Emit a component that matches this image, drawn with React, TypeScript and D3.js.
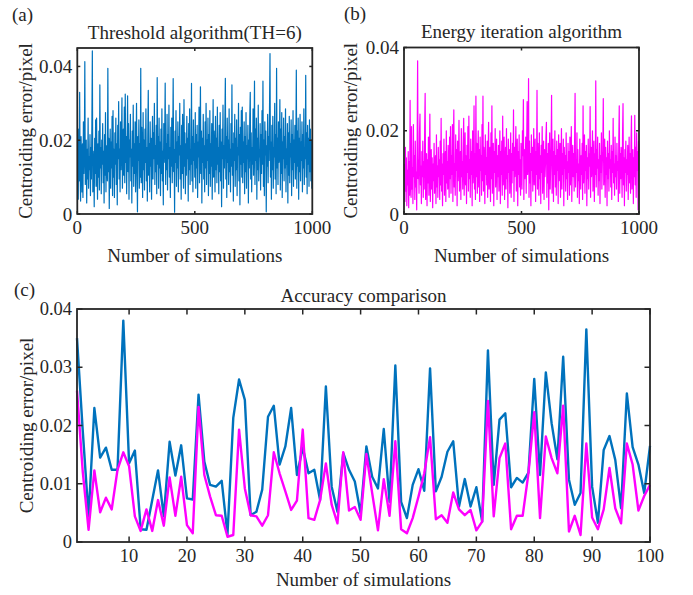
import React from "react";
import * as d3 from "d3";

// Panel (a): threshold algorithm, centroiding error in 1e-4 px, every 2nd simulation
const thresholdErr = [
  160, 40, 230, 90, 330, 120, 35, 210, 150, 60, 190, 45, 250, 110, 170, 413, 80, 140, 200, 30, 175, 95, 260, 70, 155,
  120, 215, 50, 180, 95, 240, 442, 60, 170, 130, 20, 205, 110, 255, 75, 260, 140, 40, 190, 100, 225, 65, 350, 125, 180,
  55, 200, 135, 245, 85, 170, 30, 215, 105, 275, 60, 185, 145, 90, 395, 115, 205, 15, 160, 230, 70, 195, 125, 265, 50,
  280, 100, 175, 45, 220, 135, 260, 80, 190, 25, 240, 150, 305, 95, 175, 60, 250, 120, 200, 315, 70, 165, 230, 105, 290,
  85, 325, 140, 210, 55, 185, 320, 115, 245, 40, 200, 155, 270, 90, 175, 30, 225, 130, 295, 75, 190, 110, 250, 60, 165,
  300, 120, 6, 210, 145, 255, 70, 190, 100, 395, 85, 235, 160, 45, 275, 120, 200, 65, 230, 140, 285, 90, 180, 35, 215,
  335, 105, 190, 60, 250, 130, 205, 40, 175, 265, 95, 220, 150, 300, 80, 185, 115, 240, 55, 370, 135, 210, 70, 260, 125,
  195, 50, 230, 110, 285, 90, 170, 25, 245, 140, 205, 355, 80, 190, 120, 270, 65, 215, 150, 295, 100, 180, 45, 235, 130,
  260, 85, 200, 367, 115, 175, 5, 225, 140, 280, 75, 195, 125, 250, 60, 210, 160, 300, 95, 185, 40, 240, 110, 270, 145,
  70, 310, 130, 220, 55, 190, 105, 265, 150, 205, 35, 245, 120, 285, 80, 175, 135, 354, 90, 210, 60, 255, 145, 190, 100,
  275, 70, 215, 125, 240, 45, 195, 155, 290, 85, 180, 345, 110, 225, 30, 205, 140, 270, 95, 185, 60, 250, 125, 300, 80,
  200, 145, 260, 50, 215, 110, 280, 75, 190, 130, 245, 40, 170, 310, 100, 225, 155, 60, 265, 120, 205, 85, 290, 135, 180,
  55, 240, 115, 275, 90, 195, 20, 230, 150, 295, 70, 185, 125, 250, 368, 95, 210, 45, 260, 140, 200, 80, 285, 115, 175,
  60, 245, 130, 350, 105, 190, 35, 220, 145, 270, 75, 205, 120, 255, 50, 180, 160, 300, 90, 215, 25, 235, 135, 280, 100,
  290, 85, 195, 140, 250, 55, 210, 115, 275, 70, 185, 150, 240, 30, 200, 125, 265, 330, 95, 220, 60, 180, 135, 285, 105,
  190, 360, 80, 230, 145, 260, 40, 205, 120, 295, 90, 175, 155, 245, 65, 215, 110, 280, 135, 360, 75, 200, 50, 250, 160,
  225, 6, 185, 130, 270, 85, 210, 145, 290, 435, 100, 195, 40, 240, 120, 265, 70, 180, 155, 300, 95, 215, 55, 395, 125,
  205, 80, 250, 140, 185, 310, 65, 230, 110, 275, 45, 195, 150, 260, 90, 210, 125, 285, 60, 175, 135, 245, 30, 220, 105,
  265, 85, 190, 155, 255, 50, 215, 120, 280, 75, 200, 140, 240, 95, 185, 390, 70, 225, 130, 260, 40, 205, 115, 270, 90,
  195, 145, 250, 60, 215, 125, 285, 80, 180, 150, 376, 100, 220, 55, 240, 135, 205, 75, 255, 115, 230, 90, 200, 70, 190,
];

// Panel (b): energy iteration algorithm, same units
const energyErr = [
  120, 30, 160, 55, 135, 20, 105, 70, 150, 15, 125, 45, 273, 80, 40, 210, 60, 110, 25, 215, 90, 140, 35, 175, 65,
  100, 10, 165, 368, 85, 130, 50, 195, 240, 70, 115, 25, 150, 90, 175, 40, 125, 60, 210, 290, 35, 100, 145, 20, 130,
  75, 185, 45, 110, 240, 30, 95, 155, 60, 135, 15, 120, 80, 170, 50, 105, 140, 25, 190, 65, 115, 40, 160, 90, 130,
  35, 175, 70, 230, 55, 120, 20, 145, 95, 180, 45, 110, 150, 30, 200, 75, 125, 60, 165, 100, 40, 185, 85, 210, 50,
  140, 95, 215, 30, 160, 250, 65, 120, 45, 190, 105, 155, 20, 175, 80, 130, 225, 55, 100, 150, 35, 205, 90, 125, 60,
  170, 230, 45, 115, 195, 70, 140, 25, 165, 100, 210, 55, 235, 85, 130, 40, 180, 95, 150, 20, 200, 75, 120, 260, 60,
  145, 35, 283, 90, 170, 50, 125, 200, 65, 155, 30, 185, 105, 140, 45, 215, 80, 283, 55, 160, 120, 25, 190, 95, 135,
  70, 175, 40, 145, 220, 60, 110, 160, 30, 195, 85, 260, 50, 130, 170, 20, 150, 100, 205, 65, 125, 180, 35, 140, 90,
  165, 55, 120, 200, 25, 150, 95, 175, 45, 235, 70, 130, 185, 35, 110, 160, 60, 205, 85, 140, 15, 180, 100, 155, 50,
  125, 195, 40, 145, 75, 170, 105, 250, 30, 160, 90, 135, 210, 55, 115, 180, 20, 150, 95, 190, 65, 130, 45, 170, 110,
  60, 200, 140, 275, 35, 155, 85, 120, 185, 50, 165, 270, 95, 130, 325, 40, 175, 75, 145, 20, 190, 105, 160, 55, 120,
  205, 70, 135, 180, 30, 150, 95, 297, 60, 170, 115, 45, 195, 85, 140, 25, 165, 100, 210, 50, 130, 175, 35, 155, 90,
  120, 185, 220, 40, 145, 75, 170, 10, 135, 195, 60, 110, 160, 285, 50, 125, 180, 30, 150, 95, 200, 65, 140, 45, 175,
  105, 155, 25, 190, 80, 130, 170, 40, 115, 205, 60, 145, 95, 180, 20, 160, 110, 140, 55, 195, 85, 125, 35, 170, 100,
  150, 45, 185, 70, 135, 210, 30, 120, 165, 90, 145, 55, 175, 290, 65, 130, 100, 195, 40, 155, 80, 120, 25, 180, 110,
  60, 140, 95, 170, 35, 260, 75, 125, 190, 50, 150, 105, 165, 20, 135, 85, 180, 60, 145, 115, 258, 40, 160, 90, 130,
  200, 55, 120, 175, 30, 145, 95, 320, 65, 155, 110, 185, 45, 130, 80, 170, 25, 140, 100, 195, 60, 125, 150, 277, 70,
  115, 180, 40, 160, 95, 135, 20, 175, 85, 145, 55, 200, 110, 130, 65, 165, 35, 150, 100, 230, 75, 120, 45, 185, 90,
  140, 60, 170, 105, 125, 30, 180, 260, 50, 145, 85, 160, 115, 40, 190, 265, 70, 135, 20, 155, 100, 175, 55, 130, 95,
  165, 35, 120, 185, 75, 145, 50, 170, 236, 60, 110, 155, 25, 135, 90, 237, 70, 160, 40, 195, 105, 150, 10, 175, 150,
];

// Panel (c): first 100 simulations of both methods
const compareThreshold = [
  0.035, 0.019, 0.0044, 0.023, 0.0145, 0.0162, 0.0124, 0.0124, 0.038, 0.0135,
  0.0157, 0.0022, 0.0021, 0.0072, 0.0123, 0.0044, 0.0172, 0.0114, 0.0166, 0.0075,
  0.0073, 0.0253, 0.0138, 0.0098, 0.0095, 0.0105, 0.0013, 0.0213, 0.0279, 0.0244,
  0.0046, 0.0052, 0.009, 0.0215, 0.0234, 0.0133, 0.0164, 0.023, 0.0115, 0.0162,
  0.0118, 0.0124, 0.0072, 0.0267, 0.0095, 0.0052, 0.0153, 0.0124, 0.0104, 0.0049,
  0.0164, 0.0112, 0.0092, 0.0194, 0.0069, 0.0303, 0.0069, 0.0041, 0.0098, 0.0125,
  0.0088, 0.0298, 0.0087, 0.0112, 0.0155, 0.0173, 0.0061, 0.0108, 0.0061, 0.0094,
  0.0035, 0.0329, 0.0098, 0.021, 0.0221, 0.0094, 0.011, 0.0102, 0.0119, 0.028,
  0.0115, 0.0291, 0.0204, 0.0142, 0.0318, 0.0107, 0.0064, 0.0084, 0.0365, 0.0095,
  0.0033, 0.0158, 0.0182, 0.0141, 0.0058, 0.0255, 0.0163, 0.0133, 0.0084, 0.0165,
];
const compareEnergy = [
  0.026, 0.012, 0.0021, 0.0123, 0.0051, 0.0076, 0.0056, 0.0124, 0.0154, 0.013,
  0.0044, 0.0019, 0.0056, 0.0019, 0.0072, 0.0028, 0.0111, 0.0045, 0.0112, 0.0029,
  0.0015, 0.0232, 0.0115, 0.0078, 0.0046, 0.0045, 0.0009, 0.0012, 0.0193, 0.0092,
  0.0046, 0.0044, 0.0028, 0.0046, 0.0154, 0.0118, 0.0087, 0.0055, 0.0071, 0.0193,
  0.0041, 0.0038, 0.0072, 0.0135, 0.0064, 0.0032, 0.0154, 0.0054, 0.006, 0.0038,
  0.0151, 0.0084, 0.002, 0.0108, 0.0045, 0.0173, 0.0022, 0.0015, 0.0041, 0.0078,
  0.0118, 0.018, 0.0039, 0.0046, 0.0033, 0.0085, 0.0056, 0.0046, 0.0055, 0.002,
  0.0035, 0.0242, 0.0044, 0.0144, 0.0169, 0.0022, 0.0045, 0.0045, 0.0118, 0.0223,
  0.0041, 0.0181, 0.0144, 0.0118, 0.0234, 0.0018, 0.0045, 0.0012, 0.0169, 0.0042,
  0.0022, 0.0056, 0.0127, 0.0058, 0.0032, 0.0169, 0.0133, 0.0054, 0.0079, 0.0098,
];

const FONT = "'Liberation Serif', 'Times New Roman', serif";
const AX = "#262626";
const BLUE = "#0072BD";
const MAGENTA = "#FF00FF";

const simsAB = thresholdErr.map((_, i) => 2 * (i + 1));
const simsC = compareThreshold.map((_, i) => i + 1);

type Series = { xs: number[]; ys: number[]; color: string; width: number };

type PanelProps = {
  left: number; right: number; top: number; bottom: number;
  xDomain: [number, number]; yDomain: [number, number];
  xTicks: number[]; yTicks: number[];
  yFmt: (d: number) => string;
  series: Series[];
  title: string; titleY: number;
  xLabelY: number; yLabelX: number;
  tickLen: number; tickFont: number;
  tag: string; tagX: number; tagY: number;
};

function Panel(p: PanelProps) {
  const x = d3.scaleLinear().domain(p.xDomain).range([p.left, p.right]);
  const y = d3.scaleLinear().domain(p.yDomain).range([p.bottom, p.top]);
  const cx = (p.left + p.right) / 2;
  const cy = (p.top + p.bottom) / 2;

  return (
    <g fontFamily={FONT} fill={AX}>
      {p.series.map((s, k) => {
        const line = d3.line<number>()
          .x((_, i) => x(s.xs[i]))
          .y((d) => y(d));
        return (
          <path key={k} d={line(s.ys) || ""} fill="none" stroke={s.color}
            strokeWidth={s.width} strokeLinejoin="round" />
        );
      })}

      {/* box */}
      <rect x={p.left} y={p.top} width={p.right - p.left} height={p.bottom - p.top}
        fill="none" stroke={AX} strokeWidth={1.8} />

      {/* ticks, inward on all four sides */}
      {p.xTicks.map((t) => (
        <g key={"x" + t}>
          <line x1={x(t)} x2={x(t)} y1={p.bottom} y2={p.bottom - p.tickLen} stroke={AX} strokeWidth={1.5} />
          <line x1={x(t)} x2={x(t)} y1={p.top} y2={p.top + p.tickLen} stroke={AX} strokeWidth={1.5} />
          <text x={x(t)} y={p.bottom + 20} textAnchor="middle" fontSize={p.tickFont}>{t}</text>
        </g>
      ))}
      {p.yTicks.map((t) => (
        <g key={"y" + t}>
          <line x1={p.left} x2={p.left + p.tickLen} y1={y(t)} y2={y(t)} stroke={AX} strokeWidth={1.5} />
          <line x1={p.right} x2={p.right - p.tickLen} y1={y(t)} y2={y(t)} stroke={AX} strokeWidth={1.5} />
          <text x={p.left - 5} y={y(t)} textAnchor="end" dominantBaseline="central" fontSize={p.tickFont}>
            {p.yFmt(t)}
          </text>
        </g>
      ))}

      <text x={cx} y={p.titleY} textAnchor="middle" fontSize={19}>{p.title}</text>
      <text x={cx} y={p.xLabelY} textAnchor="middle" fontSize={19}>Number of simulations</text>
      <text transform={`translate(${p.yLabelX},${cy}) rotate(-90)`} textAnchor="middle" fontSize={19}>
        Centroiding error/pixel
      </text>
      <text x={p.tagX} y={p.tagY} fontSize={19}>{p.tag}</text>
    </g>
  );
}

const fmt = (d: number) => (d === 0 ? "0" : String(d));

export default function App() {
  return (
    <svg width={693} height={595} style={{ position: "absolute", left: 0, top: 0, background: "#fff" }}>
      <Panel
        left={77.3} right={312.3} top={48} bottom={214}
        xDomain={[0, 1000]} yDomain={[0, 0.045]}
        xTicks={[0, 500, 1000]} yTicks={[0, 0.02, 0.04]} yFmt={fmt}
        series={[{ xs: simsAB, ys: thresholdErr.map((v) => v / 1e4), color: BLUE, width: 1.2 }]}
        title="Threshold algorithm(TH=6)" titleY={39}
        xLabelY={262} yLabelX={32}
        tickLen={3} tickFont={19}
        tag="(a)" tagX={12} tagY={21}
      />
      <Panel
        left={404} right={639} top={47.5} bottom={214}
        xDomain={[0, 1000]} yDomain={[0, 0.04]}
        xTicks={[0, 500, 1000]} yTicks={[0, 0.02, 0.04]} yFmt={fmt}
        series={[{ xs: simsAB, ys: energyErr.map((v) => v / 1e4), color: MAGENTA, width: 1.2 }]}
        title="Energy iteration algorithm" titleY={38}
        xLabelY={262} yLabelX={357}
        tickLen={3} tickFont={19}
        tag="(b)" tagX={344} tagY={20}
      />
      <Panel
        left={77} right={650} top={309} bottom={542}
        xDomain={[1, 100]} yDomain={[0, 0.04]}
        xTicks={[10, 20, 30, 40, 50, 60, 70, 80, 90, 100]} yTicks={[0, 0.01, 0.02, 0.03, 0.04]} yFmt={fmt}
        series={[
          { xs: simsC, ys: compareThreshold, color: BLUE, width: 2.4 },
          { xs: simsC, ys: compareEnergy, color: MAGENTA, width: 2.4 },
        ]}
        title="Accuracy comparison" titleY={302}
        xLabelY={586} yLabelX={33}
        tickLen={5.5} tickFont={18.5}
        tag="(c)" tagX={14} tagY={296}
      />
    </svg>
  );
}
